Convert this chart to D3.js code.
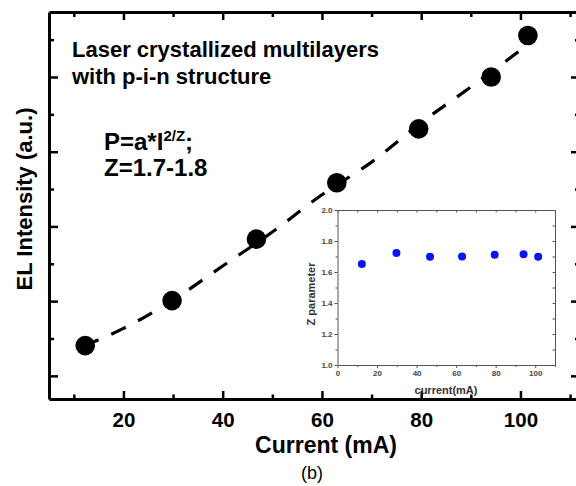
<!DOCTYPE html>
<html>
<head>
<meta charset="utf-8">
<script src="https://cdn.jsdelivr.net/npm/d3@7"></script>
<style>
  body { margin: 0; background: #fff; }
  svg { display: block; font-family: "Liberation Sans", Arial, sans-serif; }
</style>
</head>
<body>
<svg id="chart" width="576" height="486"></svg>
<script>
// data
const current = [12.3, 29.8, 46.8, 63.0, 79.5, 94.1, 101.5];   // mA
const elIntensity = [1.405, 2.007, 2.83, 3.584, 4.306, 5.0, 5.555]; // a.u.
const fitCurrent = [12, 20, 30, 40, 50, 60, 70, 80, 90, 100];
const fitIntensity = [1.40, 1.635, 2.016, 2.471, 2.925, 3.424, 3.861, 4.390, 4.866, 5.358];
const zParam = [1.652, 1.723, 1.699, 1.70, 1.712, 1.714, 1.699];

const xMajor = [20, 40, 60, 80, 100];
const xMinor = [10, 30, 50, 70, 90, 110];
const yMajor = [1, 2, 3, 4, 5];
const yMinor = [1.5, 2.5, 3.5, 4.5, 5.5];

const ixMajor = [0, 20, 40, 60, 80, 100];
const ixMinor = [10, 30, 50, 70, 90, 110];
const iyMajor = [1.0, 1.2, 1.4, 1.6, 1.8, 2.0];
const iyMinor = [1.1, 1.3, 1.5, 1.7, 1.9];

const svg = d3.select('#chart');

// main plot box
const pLeft = 49, pRight = 580, pTop = 12, pBottom = 399;

const x = d3.scaleLinear().domain([5, 112]).range([pLeft, pRight]);
const y = d3.scaleLinear().domain([0.69, 5.87]).range([pBottom, pTop]);

function styleAxis(g, w) {
    g.selectAll('.domain').attr('stroke', '#000').attr('stroke-width', w);
    g.selectAll('.tick line').attr('stroke', '#000').attr('stroke-width', 2.5);
}

// bottom
svg.append('g').attr('transform', `translate(0,${pBottom})`)
    .call(d3.axisBottom(x).tickValues(xMajor).tickSizeInner(-8).tickSizeOuter(0).tickPadding(13).tickFormat(d3.format('d')))
    .call(g => styleAxis(g, 3))
    .call(g => g.selectAll('text').attr('font-size', 20.5).attr('font-weight', 'bold')
        .attr('font-family', '"Liberation Sans", Arial, sans-serif').attr('fill', '#000'));
svg.append('g').attr('transform', `translate(0,${pBottom})`)
    .call(d3.axisBottom(x).tickValues(xMinor).tickSizeInner(-4.5).tickSizeOuter(0).tickFormat(''))
    .call(g => { g.select('.domain').remove(); styleAxis(g, 3); });

// top
svg.append('g').attr('transform', `translate(0,${pTop})`)
    .call(d3.axisTop(x).tickValues(xMajor).tickSizeInner(-8).tickSizeOuter(0).tickFormat(''))
    .call(g => styleAxis(g, 3));
svg.append('g').attr('transform', `translate(0,${pTop})`)
    .call(d3.axisTop(x).tickValues(xMinor).tickSizeInner(-5).tickSizeOuter(0).tickFormat(''))
    .call(g => { g.select('.domain').remove(); styleAxis(g, 3); });

// left
svg.append('g').attr('transform', `translate(${pLeft},0)`)
    .call(d3.axisLeft(y).tickValues(yMajor).tickSizeInner(-9).tickSizeOuter(0).tickFormat(''))
    .call(g => styleAxis(g, 3));
svg.append('g').attr('transform', `translate(${pLeft},0)`)
    .call(d3.axisLeft(y).tickValues(yMinor).tickSizeInner(-5).tickSizeOuter(0).tickFormat(''))
    .call(g => { g.select('.domain').remove(); styleAxis(g, 3); });

// right
svg.append('g').attr('transform', `translate(${pRight},0)`)
    .call(d3.axisRight(y).tickValues(yMajor).tickSizeInner(-9).tickSizeOuter(0).tickFormat(''))
    .call(g => styleAxis(g, 3));
svg.append('g').attr('transform', `translate(${pRight},0)`)
    .call(d3.axisRight(y).tickValues(yMinor).tickSizeInner(-5).tickSizeOuter(0).tickFormat(''))
    .call(g => { g.select('.domain').remove(); styleAxis(g, 3); });

// dashed fit line
const fitLine = d3.line()
    .x((d, i) => x(fitCurrent[i]))
    .y(d => y(d))
    .curve(d3.curveMonotoneX);

svg.append('path')
    .datum(fitIntensity)
    .attr('d', fitLine)
    .attr('fill', 'none')
    .attr('stroke', '#000')
    .attr('stroke-width', 3.2)
    .attr('stroke-dasharray', '16,14');

// data markers
svg.selectAll('.pt')
    .data(elIntensity)
    .enter().append('circle')
    .attr('class', 'pt')
    .attr('cx', (d, i) => x(current[i]))
    .attr('cy', d => y(d))
    .attr('r', 9.8)
    .attr('fill', '#000');

// axis titles
svg.append('text')
    .attr('x', 326).attr('y', 453)
    .attr('text-anchor', 'middle')
    .attr('font-size', 23).attr('font-weight', 'bold')
    .text('Current (mA)');

svg.append('text')
    .attr('transform', 'translate(32,199) rotate(-90)')
    .attr('text-anchor', 'middle')
    .attr('font-size', 22).attr('font-weight', 'bold')
    .text('EL Intensity (a.u.)');

svg.append('text')
    .attr('x', 312).attr('y', 479)
    .attr('text-anchor', 'middle')
    .attr('font-size', 18)
    .text('(b)');

// annotations
svg.append('text')
    .attr('x', 72).attr('y', 57)
    .attr('font-size', 22).attr('font-weight', 'bold')
    .text('Laser crystallized multilayers');
svg.append('text')
    .attr('x', 72).attr('y', 84)
    .attr('font-size', 22).attr('font-weight', 'bold')
    .text('with p-i-n structure');

const eq = svg.append('text')
    .attr('x', 104).attr('y', 150)
    .attr('font-size', 24).attr('font-weight', 'bold');
eq.append('tspan').text('P=a*I');
eq.append('tspan').attr('font-size', 15).attr('dy', -9).text('2/Z');
eq.append('tspan').attr('dy', 9).text(';');

svg.append('text')
    .attr('x', 104).attr('y', 176)
    .attr('font-size', 24).attr('font-weight', 'bold')
    .text('Z=1.7-1.8');

// ---- inset ----
const iL = 337.5, iR = 555, iT = 210, iB = 365;
const ix = d3.scaleLinear().domain([0, 110]).range([iL, iR]);
const iy = d3.scaleLinear().domain([1, 2]).range([iB, iT]);
const gray = '#555';

svg.append('rect')
    .attr('x', iL).attr('y', iT).attr('width', iR - iL).attr('height', iB - iT)
    .attr('fill', '#fff');

function styleInset(g) {
    g.selectAll('.domain').attr('stroke', gray).attr('stroke-width', 1);
    g.selectAll('.tick line').attr('stroke', gray).attr('stroke-width', 1);
    g.selectAll('text').attr('font-size', 8).attr('font-weight', 'bold')
        .attr('fill', '#444').attr('font-family', '"Liberation Sans", Arial, sans-serif');
}

svg.append('g').attr('transform', `translate(0,${iB})`)
    .call(d3.axisBottom(ix).tickValues(ixMajor).tickSizeInner(3).tickSizeOuter(0).tickPadding(2).tickFormat(d3.format('d')))
    .call(styleInset);
svg.append('g').attr('transform', `translate(0,${iB})`)
    .call(d3.axisBottom(ix).tickValues(ixMinor).tickSizeInner(2).tickSizeOuter(0).tickFormat(''))
    .call(g => { g.select('.domain').remove(); styleInset(g); });
svg.append('g').attr('transform', `translate(0,${iT})`)
    .call(d3.axisTop(ix).tickValues(ixMajor.concat(ixMinor)).tickSizeInner(-2.5).tickSizeOuter(0).tickFormat(''))
    .call(styleInset);
svg.append('g').attr('transform', `translate(${iL},0)`)
    .call(d3.axisLeft(iy).tickValues(iyMajor).tickSizeInner(3).tickSizeOuter(0).tickPadding(2).tickFormat(d3.format('.1f')))
    .call(styleInset);
svg.append('g').attr('transform', `translate(${iL},0)`)
    .call(d3.axisLeft(iy).tickValues(iyMinor).tickSizeInner(2).tickSizeOuter(0).tickFormat(''))
    .call(g => { g.select('.domain').remove(); styleInset(g); });
svg.append('g').attr('transform', `translate(${iR},0)`)
    .call(d3.axisRight(iy).tickValues(iyMajor.concat(iyMinor)).tickSizeInner(-2.5).tickSizeOuter(0).tickFormat(''))
    .call(styleInset);

svg.selectAll('.ipt')
    .data(zParam)
    .enter().append('circle')
    .attr('class', 'ipt')
    .attr('cx', (d, i) => ix(current[i]))
    .attr('cy', d => iy(d))
    .attr('r', 4)
    .attr('fill', '#0a14f0');

svg.append('text')
    .attr('x', 446).attr('y', 394)
    .attr('text-anchor', 'middle')
    .attr('font-size', 11).attr('font-weight', 'bold').attr('fill', '#333')
    .text('current(mA)');

svg.append('text')
    .attr('transform', 'translate(315,294) rotate(-90)')
    .attr('text-anchor', 'middle')
    .attr('font-size', 11).attr('font-weight', 'bold').attr('fill', '#333')
    .text('Z parameter');
</script>
</body>
</html>
